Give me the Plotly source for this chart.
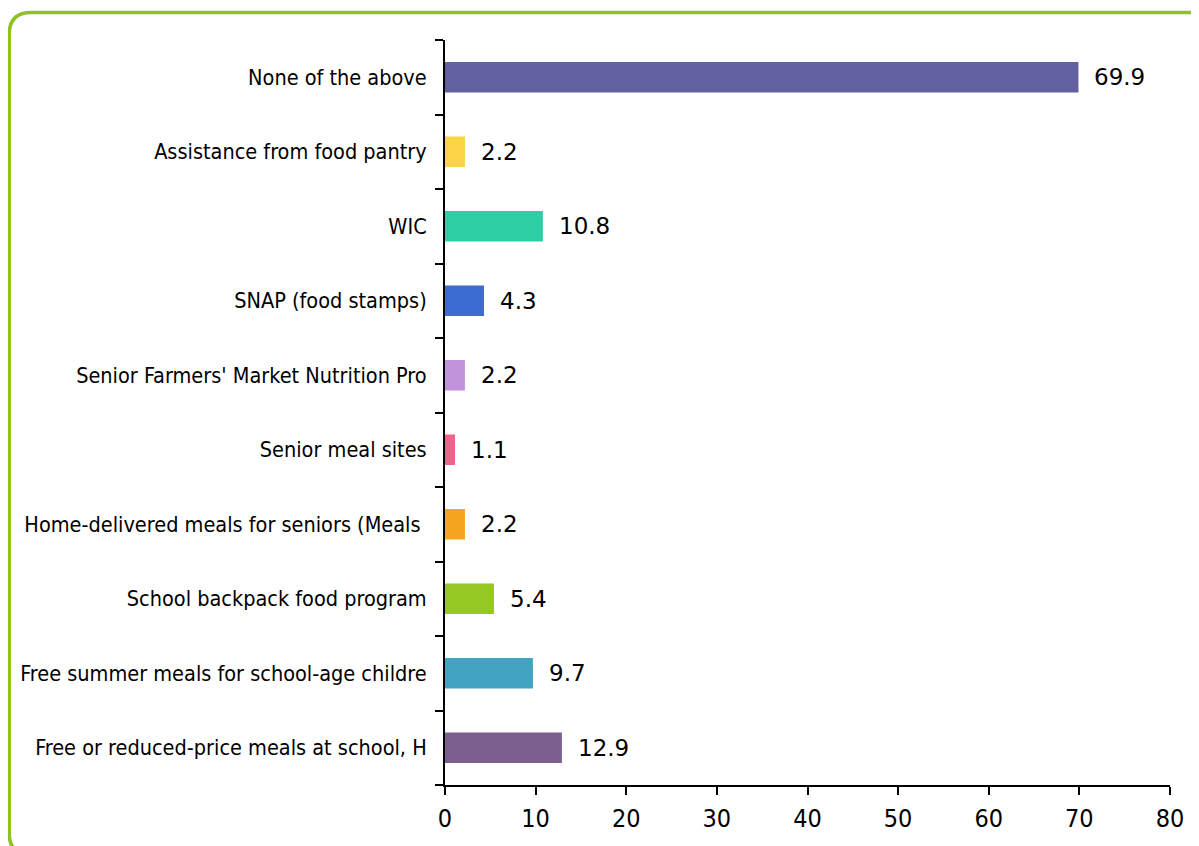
import plotly.graph_objects as go

categories = [
    "Free or reduced-price meals at school, H",
    "Free summer meals for school-age childre",
    "School backpack food program",
    "Home-delivered meals for seniors (Meals ",
    "Senior meal sites",
    "Senior Farmers' Market Nutrition Pro",
    "SNAP (food stamps)",
    "WIC",
    "Assistance from food pantry",
    "None of the above",
]
values = [12.9, 9.7, 5.4, 2.2, 1.1, 2.2, 4.3, 10.8, 2.2, 69.9]
colors = ["#7C5F8E", "#41A3C0", "#95C823", "#F5A51F", "#F0648C",
          "#C193DB", "#3D6BD1", "#2ECFA5", "#FCD447", "#62609E"]
x_ticks = [0, 10, 20, 30, 40, 50, 60, 70, 80]

# page has an 8px body margin, so figure is sized to fit the window
W, H = 1191, 838
L, R, T, B = 437, 29, 32, 61
pw, ph = W - L - R, H - T - B

fig = go.Figure()
fig.add_trace(go.Bar(
    y=categories, x=values, orientation="h",
    marker=dict(color=colors, line=dict(width=0)),
    width=0.41, hoverinfo="skip",
))

for c, v in zip(categories, values):
    fig.add_annotation(x=v, y=c, xref="x", yref="y", text=f"{v:.1f}",
                       showarrow=False, xanchor="left", yanchor="middle",
                       xshift=14, font=dict(family="DejaVu Sans", size=23, color="#000"))

# rounded border in paper coords (figure pixel coords converted)
def px(x):
    return (x - L) / pw
def py(y):
    return (H - B - y) / ph

x0, y0, x1, y1, r = 1.2, 4.5, 1202, 847, 22
path = (f"M {px(x0)},{py(y0 + r)} Q {px(x0)},{py(y0)} {px(x0 + r)},{py(y0)} "
        f"L {px(x1 - r)},{py(y0)} Q {px(x1)},{py(y0)} {px(x1)},{py(y0 + r)} "
        f"L {px(x1)},{py(y1 - r)} Q {px(x1)},{py(y1)} {px(x1 - r)},{py(y1)} "
        f"L {px(x0 + r)},{py(y1)} Q {px(x0)},{py(y1)} {px(x0)},{py(y1 - r)} Z")
fig.add_shape(type="path", path=path, xref="paper", yref="paper",
              line=dict(color="#8DC21F", width=3.5), fillcolor="rgba(0,0,0,0)",
              layer="below")

fig.update_layout(
    width=W, height=H,
    margin=dict(l=L, r=R, t=T, b=B, pad=0),
    paper_bgcolor="white", plot_bgcolor="white",
    showlegend=False,
    xaxis=dict(range=[0, 80], tickvals=x_ticks, showgrid=False, zeroline=False,
               showline=True, linecolor="#000", linewidth=2,
               ticks="outside", ticklen=8, tickwidth=2, tickcolor="#000",
               ticklabelstandoff=2,
               tickfont=dict(family="DejaVu Sans Condensed", size=25, color="#000")),
    yaxis=dict(type="category", categoryorder="array", categoryarray=categories,
               showgrid=False, zeroline=False,
               showline=True, linecolor="#000", linewidth=2,
               ticks="outside", ticklen=8, tickwidth=2, tickcolor="#000",
               tickson="boundaries", ticklabelstandoff=12,
               tickfont=dict(family="DejaVu Sans Condensed", size=21.5, color="#000")),
)

fig.write_html("out.html")
